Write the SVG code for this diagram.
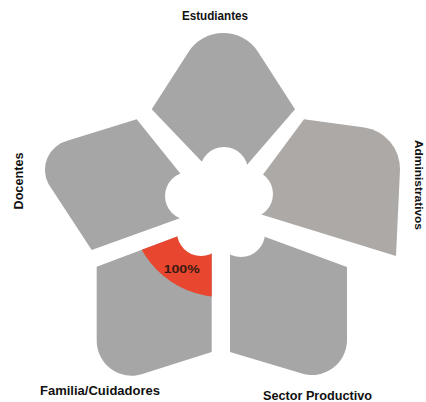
<svg xmlns="http://www.w3.org/2000/svg" width="426" height="402" viewBox="0 0 426 402">
<defs>
<style>
.petal{fill:#a6a6a6}
.petal2{fill:#aca9a6}
.lbl{font-family:"Liberation Sans",Arial,sans-serif;font-weight:bold;font-size:12px;fill:#111}
.pct{font-family:"Liberation Sans",Arial,sans-serif;font-weight:bold;font-size:10px;fill:#3a1a12}
.hole{fill:#fff}
</style>
<clipPath id="famClip"><path d="M211.7,352 L142.3,374.1 A35,35 0 0 1 96.7,340.8 L96.7,266.7 L211.7,223.6 Z"/></clipPath>
</defs>
<rect width="426" height="402" fill="#fff"/>
<g id="estudiantes">
<path class="petal" d="M151.7,109.3 L188.5,52 A41.4,41.4 0 0 1 258.1,52 L295,109.3 L227,188 Z"/>
<text class="lbl" x="215" y="20" text-anchor="middle" textLength="66" lengthAdjust="spacingAndGlyphs">Estudiantes</text>
</g>
<g id="administrativos">
<path class="petal2" d="M304,119.3 L364.5,127.4 A42,42 0 0 1 400,169.5 L396,256 L238.6,207.4 Z"/>
<text class="lbl" style="font-size:11px" transform="translate(415,185) rotate(90)" text-anchor="middle" textLength="90" lengthAdjust="spacingAndGlyphs">Administrativos</text>
</g>
<g id="sector-productivo">
<path class="petal" d="M347,267 L347,340 A35,35 0 0 1 302,373.5 L230,352 L230,224 Z"/>
<text class="lbl" x="317.5" y="400" text-anchor="middle" textLength="109" lengthAdjust="spacingAndGlyphs">Sector Productivo</text>
</g>
<g id="familia-cuidadores">
<path class="petal" d="M211.7,352 L142.3,374.1 A35,35 0 0 1 96.7,340.8 L96.7,266.7 L211.7,223.6 Z"/>
<circle cx="222" cy="205" r="92" fill="#e8462e" clip-path="url(#famClip)"/>
<text class="pct" x="181.7" y="273" text-anchor="middle" textLength="36" lengthAdjust="spacingAndGlyphs">100%</text>
<text class="lbl" x="100" y="395" text-anchor="middle" textLength="120" lengthAdjust="spacingAndGlyphs">Familia/Cuidadores</text>
</g>
<g id="docentes">
<path class="petal" d="M136.7,119.3 L68,140.6 A30,30 0 0 0 48.5,184 L91.7,250 L175,220 L208,208 Z"/>
<text class="lbl" transform="translate(22.5,181) rotate(-90)" text-anchor="middle" textLength="57" lengthAdjust="spacingAndGlyphs">Docentes</text>
</g>
<g id="centro">
<circle class="hole" cx="221" cy="205" r="36"/>
<circle class="hole" cx="224" cy="171" r="24"/>
<circle class="hole" cx="189" cy="196" r="24"/>
<circle class="hole" cx="249" cy="194" r="24"/>
<circle class="hole" cx="201" cy="232" r="24"/>
<circle class="hole" cx="241" cy="233" r="24"/>
</g>
</svg>
